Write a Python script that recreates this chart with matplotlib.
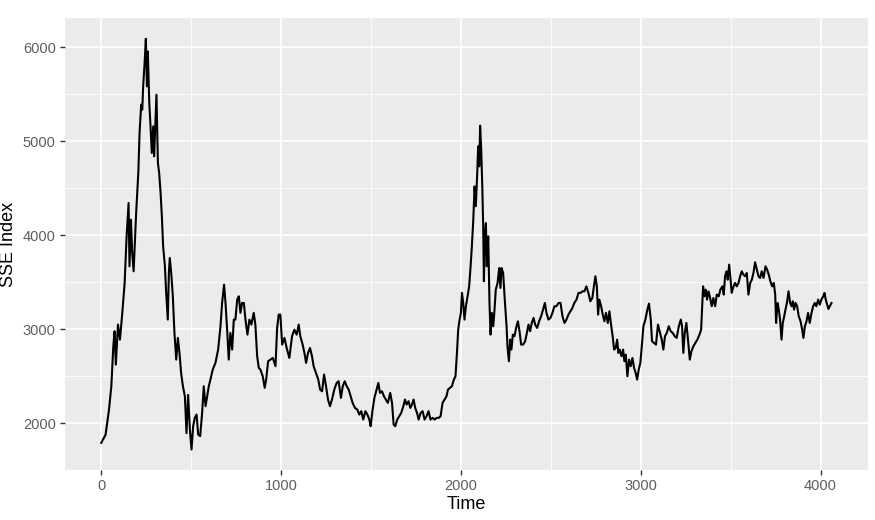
import matplotlib
matplotlib.use("Agg")
import matplotlib.pyplot as plt
from matplotlib.ticker import MultipleLocator

# values (time index, index level)
time = [
    0, 24, 43, 56, 67, 74, 81, 93, 104, 117, 130, 141, 152, 157, 165, 172, 180, 187, 194,
    206, 213, 222, 228, 233, 241, 248, 254, 259, 267, 274, 281, 289, 294, 307, 315, 322,
    330, 337, 344, 354, 361, 370, 376, 381, 389, 398, 407, 417, 426, 435, 444, 454, 465,
    474, 483, 493, 502, 511, 520, 530, 539, 550, 561, 570, 580, 589, 598, 607, 620, 635,
    650, 663, 672, 683, 691, 700, 709, 718, 728, 737, 746, 756, 765, 774, 783, 793, 802,
    813, 824, 835, 848, 857, 867, 876, 885, 898, 909, 917, 928, 941, 954, 969, 978, 987,
    996, 1006, 1019, 1031, 1046, 1061, 1074, 1087, 1098, 1107, 1120, 1130, 1139, 1150,
    1161, 1172, 1181, 1194, 1207, 1217, 1228, 1239, 1250, 1261, 1272, 1283, 1296, 1309,
    1320, 1333, 1343, 1354, 1365, 1376, 1387, 1398, 1411, 1424, 1435, 1446, 1457, 1469,
    1480, 1491, 1498, 1509, 1519, 1531, 1541, 1550, 1561, 1572, 1583, 1594, 1607, 1617,
    1626, 1635, 1646, 1657, 1668, 1680, 1689, 1698, 1709, 1719, 1728, 1737, 1746, 1756,
    1765, 1776, 1787, 1798, 1809, 1820, 1831, 1843, 1854, 1865, 1876, 1887, 1898, 1909,
    1920, 1928, 1939, 1950, 1961, 1970, 1978, 1985, 1993, 2000, 2006, 2013, 2020, 2028,
    2037, 2046, 2054, 2061, 2069, 2076, 2083, 2091, 2096, 2102, 2107, 2113, 2119, 2124,
    2128, 2133, 2139, 2144, 2152, 2159, 2165, 2172, 2180, 2187, 2194, 2204, 2213, 2220,
    2226, 2235, 2244, 2254, 2259, 2267, 2274, 2281, 2289, 2298, 2307, 2317, 2326, 2335,
    2346, 2357, 2367, 2376, 2385, 2394, 2404, 2413, 2424, 2435, 2446, 2457, 2467, 2476,
    2487, 2498, 2509, 2520, 2531, 2543, 2554, 2565, 2576, 2587, 2598, 2609, 2620, 2631,
    2643, 2654, 2665, 2676, 2687, 2698, 2709, 2720, 2731, 2741, 2748, 2756, 2763, 2770,
    2780, 2789, 2798, 2807, 2817, 2826, 2835, 2844, 2852, 2861, 2869, 2876, 2883, 2893,
    2902, 2909, 2917, 2926, 2935, 2944, 2954, 2963, 2972, 2980, 2989, 2998, 3006, 3015,
    3026, 3037, 3046, 3056, 3063, 3074, 3085, 3096, 3108, 3117, 3126, 3135, 3145, 3156,
    3167, 3178, 3189, 3200, 3212, 3223, 3230, 3237, 3245, 3254, 3263, 3273, 3282, 3293,
    3304, 3315, 3327, 3336, 3341, 3347, 3354, 3362, 3369, 3377, 3386, 3395, 3404, 3414,
    3423, 3434, 3443, 3454, 3462, 3469, 3477, 3484, 3492, 3499, 3506, 3516, 3525, 3534,
    3544, 3553, 3562, 3571, 3581, 3590, 3599, 3609, 3618, 3627, 3636, 3646, 3655, 3664,
    3673, 3683, 3694, 3703, 3712, 3721, 3731, 3740, 3748, 3753, 3761, 3768, 3775, 3783,
    3790, 3798, 3805, 3813, 3822, 3831, 3839, 3846, 3853, 3861, 3870, 3879, 3889, 3898,
    3905, 3913, 3922, 3931, 3940, 3950, 3959, 3968, 3977, 3987, 3996, 4005, 4015, 4022,
    4029, 4037, 4044, 4052, 4061,
]
sse_index = [
    1791, 1878, 2145, 2394, 2819, 2979, 2624, 3050, 2890, 3174, 3493, 3989, 4344, 3670,
    4167, 3812, 3617, 3918, 4238, 4663, 5089, 5390, 5337, 5585, 5833, 6092, 5585, 5957,
    5408, 5160, 4876, 5160, 4840, 5496, 4770, 4663, 4450, 4202, 3883, 3670, 3387, 3103,
    3599, 3759, 3599, 3351, 2961, 2677, 2908, 2748, 2535, 2394, 2287, 1894, 2301, 1929,
    1720, 1968, 2057, 2092, 1880, 1862, 2110, 2394, 2181, 2287, 2394, 2464, 2571, 2642,
    2784, 3032, 3280, 3475, 3280, 2996, 2677, 2961, 2784, 3103, 3103, 3316, 3351, 3174,
    3280, 3280, 3103, 2943, 3103, 3050, 3174, 3050, 2713, 2589, 2571, 2500, 2376, 2464,
    2660, 2677, 2695, 2606, 3014, 3156, 3156, 2837, 2908, 2801, 2695, 2926, 2996, 2943,
    3050, 2926, 2837, 2748, 2642, 2748, 2801, 2713, 2606, 2535, 2464, 2358, 2340, 2518,
    2394, 2252, 2181, 2252, 2358, 2429, 2447, 2270, 2394, 2447, 2394, 2358, 2287, 2216,
    2163, 2145, 2092, 2128, 2039, 2128, 2092, 2039, 1968, 2145, 2270, 2358, 2429, 2323,
    2340, 2287, 2252, 2216, 2323, 2216, 1986, 1968, 2039, 2074, 2110, 2181, 2252, 2199,
    2234, 2163, 2199, 2252, 2163, 2110, 2039, 2110, 2128, 2039, 2074, 2128, 2039, 2057,
    2039, 2057, 2057, 2074, 2216, 2252, 2287, 2358, 2376, 2394, 2464, 2500, 2748, 2996,
    3103, 3174, 3387, 3280, 3103, 3245, 3351, 3457, 3670, 3883, 4167, 4521, 4309, 4663,
    4947, 4734, 5167, 4911, 4521, 4096, 3511, 3989, 4131, 3670, 3989, 3280, 2943, 3174,
    3032, 3209, 3422, 3493, 3652, 3440, 3652, 3599, 3316, 3032, 2819, 2660, 2890, 2784,
    2943, 2926, 3014, 3085, 2979, 2837, 2837, 2872, 2961, 3050, 2979, 3067, 3121, 3050,
    3014, 3085, 3138, 3209, 3280, 3174, 3103, 3121, 3174, 3245, 3245, 3280, 3280, 3138,
    3067, 3103, 3156, 3191, 3227, 3280, 3316, 3387, 3387, 3404, 3404, 3457, 3387, 3298,
    3333, 3475, 3564, 3457, 3156, 3316, 3245, 3156, 3085, 3174, 3067, 3191, 3050, 2926,
    2784, 2801, 2890, 2748, 2784, 2713, 2784, 2660, 2730, 2500, 2677, 2606, 2695, 2589,
    2535, 2464, 2571, 2642, 2819, 3032, 3103, 3209, 3273, 3103, 2872, 2855, 2837, 3050,
    2961, 2890, 2784, 2926, 2961, 3032, 2979, 2961, 2926, 2908, 3032, 3103, 3032, 2748,
    2961, 3067, 2890, 2677, 2766, 2819, 2855, 2890, 2943, 2996, 3209, 3457, 3351, 3422,
    3316, 3404, 3333, 3245, 3333, 3245, 3369, 3351, 3422, 3457, 3369, 3564, 3617, 3528,
    3688, 3546, 3387, 3457, 3493, 3457, 3493, 3564, 3617, 3582, 3564, 3599, 3369, 3493,
    3528, 3599, 3713, 3635, 3564, 3546, 3617, 3546, 3670, 3635, 3582, 3511, 3457, 3493,
    3369, 3067, 3280, 3209, 3103, 2890, 3067, 3138, 3209, 3280, 3404, 3280, 3245, 3298,
    3209, 3280, 3245, 3138, 3085, 2996, 2908, 3032, 3085, 3174, 3067, 3174, 3245, 3280,
    3245, 3316, 3262, 3316, 3351, 3387, 3316, 3262, 3216, 3245, 3280,
]

x_ticks = [0, 1000, 2000, 3000, 4000]
y_ticks = [2000, 3000, 4000, 5000, 6000]

plt.rcParams["font.family"] = ["Liberation Sans", "DejaVu Sans"]

fig = plt.figure(figsize=(8.75, 5.2), dpi=100)
ax = fig.add_axes([0.074, 0.096, 0.918, 0.869])
ax.set_facecolor("#EBEBEB")

ax.plot(time, sse_index, color="black", linewidth=1.5)

# ggplot-like 5% expansion
xr = max(time) - min(time)
yr = max(sse_index) - min(sse_index)
ax.set_xlim(min(time) - 0.05 * xr, max(time) + 0.05 * xr)
ax.set_ylim(min(sse_index) - 0.05 * yr, max(sse_index) + 0.05 * yr)

ax.set_xticks(x_ticks)
ax.set_yticks(y_ticks)
ax.xaxis.set_minor_locator(MultipleLocator(500))
ax.yaxis.set_minor_locator(MultipleLocator(500))
ax.grid(which="major", color="white", linewidth=1.2)
ax.grid(which="minor", color="white", linewidth=0.6)
ax.set_axisbelow(True)
for s in ax.spines.values():
    s.set_visible(False)

ax.tick_params(which="major", length=3.5, width=1, color="#333333",
               labelcolor="#5E5E5E", labelsize=10.5, pad=3)
ax.tick_params(which="minor", length=0)

ax.set_xlabel("Time", fontsize=13, labelpad=2)
ax.set_ylabel("SSE Index", fontsize=13, labelpad=4)

fig.savefig("out.png", dpi=100)
